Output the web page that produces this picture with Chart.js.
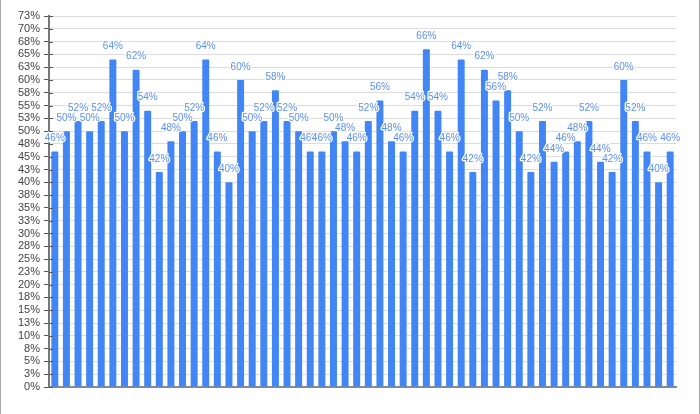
<!DOCTYPE html>
<html>
<head>
<meta charset="utf-8">
<script src="https://cdn.jsdelivr.net/npm/chart.js@4/dist/chart.umd.min.js"></script>
<style>
  html, body { margin: 0; padding: 0; background: #fff; }
  #wrap { position: relative; width: 700px; height: 414px; box-sizing: border-box; border-left: 1px solid #aaa; border-right: 1px solid #aaa; }
  canvas { display: block; }
</style>
</head>
<body>
<div id="wrap"><canvas id="c" width="698" height="414"></canvas></div>
<script>
const categories = Array.from({length: 54}, (_, i) => 'Q' + (i + 1));
const values = [46, 50, 52, 50, 52, 64, 50, 62, 54, 42, 48, 50, 52, 64, 46, 40, 60, 50, 52, 58,
                52, 50, 46, 46, 50, 48, 46, 52, 56, 48, 46, 54, 66, 54, 46, 64, 42, 62, 56, 58,
                50, 42, 52, 44, 46, 48, 52, 44, 42, 60, 52, 46, 40, 46];
const yMax = 72.5;
const yStep = 2.5;

const labelPlugin = {
  id: 'barLabels',
  afterDatasetsDraw(chart) {
    const ctx = chart.ctx;
    const meta = chart.getDatasetMeta(0);
    const ys = chart.scales.y;
    ctx.save();
    // inner tick marks crossing the y axis
    ctx.strokeStyle = '#555';
    ctx.lineWidth = 1;
    ys.ticks.forEach((t) => {
      const py = Math.round(ys.getPixelForValue(t.value)) + 0.5;
      ctx.beginPath();
      ctx.moveTo(ys.right, py);
      ctx.lineTo(ys.right + 4, py);
      ctx.stroke();
    });
    ctx.font = '10px "Liberation Sans", Arial, sans-serif';
    ctx.textAlign = 'center';
    ctx.textBaseline = 'middle';
    ctx.lineJoin = 'round';
    meta.data.forEach((el, i) => {
      const txt = values[i] + '%';
      const y = el.y - 13;
      ctx.strokeStyle = '#ffffff';
      ctx.lineWidth = 2.5;
      ctx.strokeText(txt, el.x, y);
      ctx.fillStyle = '#5b8ff0';
      ctx.fillText(txt, el.x, y);
    });
    ctx.restore();
  }
};

new Chart(document.getElementById('c'), {
  type: 'bar',
  data: {
    labels: categories,
    datasets: [{
      data: values,
      backgroundColor: '#4285f4',
      borderWidth: 0,
      borderRadius: 1,
      barPercentage: 0.6,
      categoryPercentage: 1.0
    }]
  },
  options: {
    responsive: false,
    animation: false,
    layout: { padding: { top: 16, bottom: 27, left: 0, right: 23 } },
    plugins: { legend: { display: false }, tooltip: { enabled: false } },
    scales: {
      x: {
        ticks: { display: false },
        grid: { display: false, drawTicks: false },
        border: { display: true, color: '#8a8a8a', width: 2 }
      },
      y: {
        min: 0,
        max: yMax,
        afterFit(scale) { scale.width = 48; },
        ticks: {
          stepSize: yStep,
          autoSkip: false,
          padding: 4,
          color: '#444',
          font: { size: 11, family: '"Liberation Sans", Arial, sans-serif' },
          callback: (v) => Math.round(v) + '%'
        },
        grid: { color: '#dcdcdc', tickColor: '#555', tickLength: 5, lineWidth: 1 },
        border: { display: true, color: '#777', width: 2 }
      }
    }
  },
  plugins: [labelPlugin]
});
</script>
</body>
</html>
